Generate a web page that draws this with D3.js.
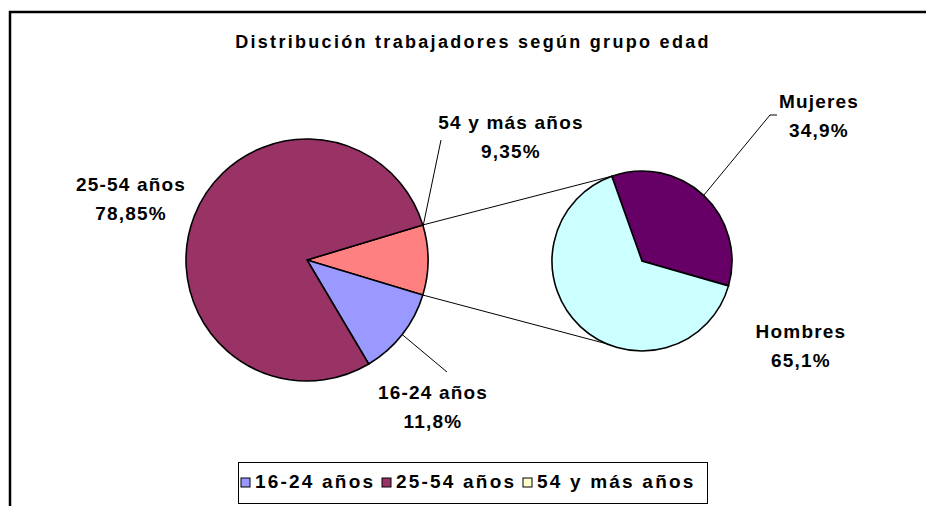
<!DOCTYPE html>
<html lang="es">
  <head>
    <meta charset="UTF-8">
    <title>Distribución trabajadores según grupo edad</title>
    <style>
      body { margin: 0; background: #fff; }
      text {
        font-family: "Liberation Sans", Arial, sans-serif;
        font-weight: bold;
        fill: #000;
      }
      .slice { stroke: #000; stroke-width: 1.6px; }
      .leader { stroke: #000; stroke-width: 1px; fill: none; }
    </style>
  </head>
  <body>
    <script src="https://cdn.jsdelivr.net/npm/d3@7/dist/d3.min.js"></script>
    <script>
      // data
      const title = "Distribución trabajadores según grupo edad";
      const groups = ["16-24 años", "25-54 años", "54 y más años"];
      const groupShares = [11.8, 78.85, 9.35];
      const groupColors = ["#9999FF", "#993366", "#FF8080"];
      const legendColors = ["#9999FF", "#993366", "#FFFFCC"]; // excel shows the split slice as light yellow in the legend
      const sexes = ["Mujeres", "Hombres"];
      const sexShares = [34.9, 65.1];
      const sexColors = ["#660066", "#CCFFFF"];

      const W = 926, H = 506;
      const deg = Math.PI / 180;
      const fmt = v => String(v).replace(".", ",") + "%";

      const svg = d3.select("body").append("svg")
        .attr("width", W)
        .attr("height", H);

      // chart frame (right and bottom edges fall outside the picture)
      svg.append("path")
        .attr("d", `M10,${H + 2}V12H${W + 2}`)
        .attr("fill", "none")
        .attr("stroke", "#000")
        .attr("stroke-width", 2.5);

      svg.append("text")
        .attr("x", 473)
        .attr("y", 48)
        .attr("text-anchor", "middle")
        .style("font-size", "18px")
        .style("letter-spacing", "2.3px")
        .text(title);

      // main pie: the split slice (54 y más) sits centred on 3 o'clock
      const main = { cx: 307, cy: 260, r: 121 };
      const order = [2, 0, 1];
      const splitHalf = groupShares[2] / 100 * Math.PI;
      const start = Math.PI / 2 - splitHalf;
      const mainPie = d3.pie().sort(null).value(i => groupShares[i])
        .startAngle(start).endAngle(start + 2 * Math.PI)(order);
      const mainArc = d3.arc().innerRadius(0).outerRadius(main.r);

      const gMain = svg.append("g").attr("transform", `translate(${main.cx},${main.cy})`);
      gMain.selectAll("path")
        .data(mainPie)
        .join("path")
        .attr("class", "slice")
        .attr("d", mainArc)
        .attr("fill", d => groupColors[d.data]);

      // second pie (breakdown of the split slice)
      const sub = { cx: 642, cy: 261, r: 90 };
      const subStart = -19.6 * deg;
      const subPie = d3.pie().sort(null).value(d => d)
        .startAngle(subStart).endAngle(subStart + 2 * Math.PI)(sexShares);
      const subArc = d3.arc().innerRadius(0).outerRadius(sub.r);

      const gSub = svg.append("g").attr("transform", `translate(${sub.cx},${sub.cy})`);
      gSub.selectAll("path")
        .data(subPie)
        .join("path")
        .attr("class", "slice")
        .attr("d", subArc)
        .attr("fill", (d, i) => sexColors[i]);

      const onCircle = (c, a, r) => [c.cx + (r || c.r) * Math.sin(a), c.cy - (r || c.r) * Math.cos(a)];

      // connector lines between the two pies
      const split = mainPie.find(d => d.data === 2);
      const conn = [
        [onCircle(main, split.startAngle), onCircle(sub, -19.5 * deg)],
        [onCircle(main, split.endAngle), onCircle(sub, 203 * deg)]
      ];
      svg.selectAll("line.conn")
        .data(conn)
        .join("line")
        .attr("class", "leader")
        .attr("x1", d => d[0][0]).attr("y1", d => d[0][1])
        .attr("x2", d => d[1][0]).attr("y2", d => d[1][1]);

      // data labels
      const mid = d => (d.startAngle + d.endAngle) / 2;
      const labels = [
        { name: groups[1], val: fmt(groupShares[1]), x: 131, y: 191 },
        { name: groups[2], val: fmt(groupShares[2]), x: 511, y: 129,
          leader: [onCircle(main, split.startAngle + 0.5 * deg), [441, 140]] },
        { name: groups[0], val: fmt(groupShares[0]), x: 433, y: 399,
          leader: [onCircle(main, mid(mainPie.find(d => d.data === 0))), [447, 372]] },
        { name: sexes[0], val: fmt(sexShares[0]), x: 819, y: 108,
          leader: [onCircle(sub, mid(subPie[0])), [770, 115], [777, 115]] },
        { name: sexes[1], val: fmt(sexShares[1]), x: 801, y: 338 }
      ];

      labels.filter(d => d.leader).forEach(d => {
        svg.append("path")
          .attr("class", "leader")
          .attr("d", d3.line()(d.leader));
      });

      const lab = svg.selectAll("g.lab")
        .data(labels)
        .join("g")
        .attr("class", "lab");
      lab.append("text")
        .attr("x", d => d.x)
        .attr("y", d => d.y)
        .attr("text-anchor", "middle")
        .style("font-size", "19px")
        .style("letter-spacing", "1.2px")
        .text(d => d.name);
      lab.append("text")
        .attr("x", d => d.x)
        .attr("y", d => d.y + 29)
        .attr("text-anchor", "middle")
        .style("font-size", "19px")
        .style("letter-spacing", "1.2px")
        .text(d => d.val);

      // legend
      const legend = svg.append("g");
      legend.append("rect")
        .attr("x", 238.5).attr("y", 462.5)
        .attr("width", 469).attr("height", 41)
        .attr("fill", "#fff")
        .attr("stroke", "#000")
        .attr("stroke-width", 1);
      const itemX = [241, 382, 523];
      const item = legend.selectAll("g")
        .data(groups)
        .join("g")
        .attr("transform", (d, i) => `translate(${itemX[i]},478)`);
      item.append("rect")
        .attr("width", 9).attr("height", 9)
        .attr("fill", (d, i) => legendColors[i])
        .attr("stroke", "#000")
        .attr("stroke-width", 1);
      item.append("text")
        .attr("x", 14)
        .attr("y", 9.5)
        .style("font-size", "19px")
        .style("letter-spacing", "2.2px")
        .text(d => d);
    </script>
  </body>
</html>
